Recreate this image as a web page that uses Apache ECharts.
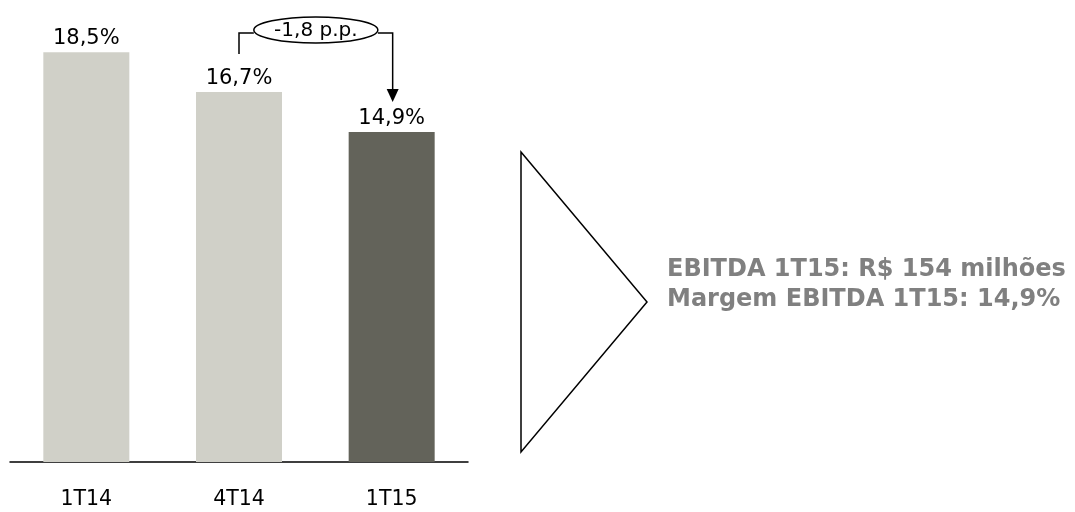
<!DOCTYPE html>
<html>
<head>
<meta charset="utf-8">
<script src="https://cdn.jsdelivr.net/npm/echarts@6/dist/echarts.min.js"></script>
<style>html,body{margin:0;padding:0;background:#fff}#c{width:1075px;height:512px}</style>
</head>
<body>
<div id="c"></div>
<script>
const categories = ['1T14', '4T14', '1T15'];
const margins = [18.5, 16.7, 14.9];
const labels = ['18,5%', '16,7%', '14,9%'];
const deltaLabel = '-1,8 p.p.';
const sideText = ['EBITDA 1T15: R$ 154 milhões', 'Margem EBITDA 1T15: 14,9%'];

const FONT = '"DejaVu Sans", Verdana, sans-serif';
const chart = echarts.init(document.getElementById('c'), null, {renderer: 'canvas'});

const option = {
  animation: false,
  grid: {left: 10, right: 607, top: 19, bottom: 50},
  xAxis: {
    type: 'category', data: categories,
    axisLine: {lineStyle: {color: '#000', width: 1.5}},
    axisTick: {show: false},
    axisLabel: {color: '#000', fontSize: 20.5, fontFamily: FONT, margin: 27}
  },
  yAxis: {type: 'value', min: 0, max: 20, show: false, splitLine: {show: false}},
  series: [{
    type: 'bar', barWidth: 86,
    data: margins.map((v, i) => ({value: v, itemStyle: {color: i === 2 ? '#63635A' : '#D0D0C8'}})),
    label: {
      show: true, position: 'top', distance: 3, color: '#000', fontSize: 21, fontFamily: FONT,
      formatter: p => labels[p.dataIndex]
    }
  }]
};
chart.setOption(option);

const pL = chart.convertToPixel({xAxisIndex: 0, yAxisIndex: 0}, [1, margins[1]]);
const pR = chart.convertToPixel({xAxisIndex: 0, yAxisIndex: 0}, [2, margins[2]]);
const xL = pL[0], xR = pR[0] + 1;
const yTop = 33;
const cx = (xL + xR) / 2, cy = 30;
const rx = 62, ry = 13;
const leftBottom = pL[1] - 38;
const tipY = pR[1] - 30;

chart.setOption({
  graphic: [
    {type: 'polyline', shape: {points: [[xL, leftBottom], [xL, yTop], [cx - rx, yTop]]}, style: {stroke: '#000', lineWidth: 1.5, fill: null}},
    {type: 'polyline', shape: {points: [[cx + rx, yTop], [xR, yTop], [xR, tipY - 10]]}, style: {stroke: '#000', lineWidth: 1.5, fill: null}},
    {type: 'polygon', shape: {points: [[xR - 6, tipY - 13], [xR + 6, tipY - 13], [xR, tipY]]}, style: {fill: '#000'}},
    {type: 'ellipse', shape: {cx: cx, cy: cy, rx: rx, ry: ry}, style: {fill: '#fff', stroke: '#000', lineWidth: 1.5}},
    {type: 'text', x: cx, y: cy + 1, style: {text: deltaLabel, fill: '#000', font: '20px ' + FONT, align: 'center', verticalAlign: 'middle'}},
    {type: 'polygon', shape: {points: [[521, 152], [647, 302], [521, 452]]}, style: {fill: '#fff', stroke: '#000', lineWidth: 1.5}},
    {type: 'text', x: 667, y: 270, style: {text: sideText[0], fill: '#808080', font: 'bold 24px ' + FONT, align: 'left', verticalAlign: 'middle'}},
    {type: 'text', x: 667, y: 300, style: {text: sideText[1], fill: '#808080', font: 'bold 24px ' + FONT, align: 'left', verticalAlign: 'middle'}}
  ]
});
</script>
</body>
</html>
